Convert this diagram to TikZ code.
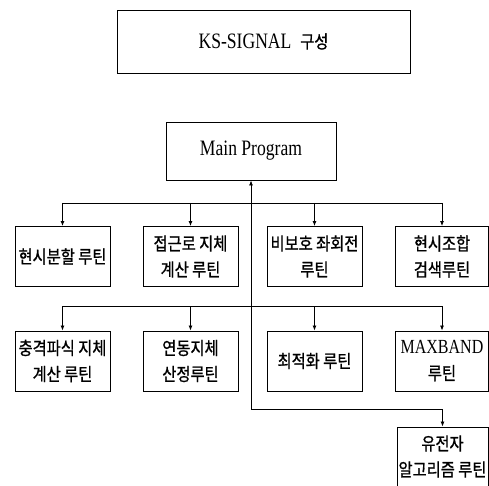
\documentclass[tikz,border=0pt]{standalone}
\usepackage{fontspec}
\setmainfont[FakeStretch=0.8]{Liberation Serif}
\newfontfamily\krfont[FakeStretch=0.85, FakeBold=1]{Noto Sans CJK KR}
\usetikzlibrary{positioning,arrows.meta}
\tikzset{%
  block/.style={draw, line width=0.9pt, rectangle, align=center, inner sep=0pt},
  head/.style={block, font=\rmfamily\fontsize{22}{26}\selectfont},% title boxes
  routine/.style={block, minimum width=93pt, minimum height=60pt,
    font=\krfont\fontsize{18}{26}\selectfont},% routine boxes
  link/.style={line width=0.8pt},% bus lines
  call/.style={link, -{Latex[length=5pt,width=4pt]}}% arrows into boxes
}
\begin{document}
\begin{tikzpicture}[x=1pt,y=-1pt]
\useasboundingbox (0,0) rectangle (489,486);

\node[head, minimum width=293pt, minimum height=63pt] (title) at (263.5,41.5) {KS-SIGNAL\ \ {\krfont\fontsize{18}{22}\selectfont 구성}};
\node[head, minimum width=170pt, minimum height=58pt] (main) at (251,151) {Main Program};

% first row
\node[routine, minimum width=95pt] (split) at (62.5,256.5) {현시분할 루틴};
\node[routine, minimum width=95pt] (approach) at (190.5,256.5) {접근로 지체\\계산 루틴};
\node[routine, minimum width=95pt] (leftturn) at (314.5,256.5) {비보호 좌회전\\루틴};
\node[routine] (combine) at (442,256.5) {현시조합\\검색루틴};

% second row
\node[routine, minimum width=95pt] (shock) at (62.5,361) {충격파식 지체\\계산 루틴};
\node[routine, minimum width=95pt] (link) at (190.5,361) {연동지체\\산정루틴};
\node[routine, minimum width=95pt] (optim) at (314.5,361) {최적화 루틴};
\node[routine] (maxband) at (442,361) {{\rmfamily\fontsize{20}{26}\selectfont MAXBAND}\\루틴};

\node[routine, minimum width=91pt, minimum height=59pt] (genetic) at (442.5,456.5) {유전자\\알고리즘 루틴};

\coordinate (bus1) at (251,203);
\coordinate (bus2) at (251,306);
\coordinate (turn) at (251,409);

\draw[call] (turn) -- (main.south);
\draw[link] (bus1 -| split) -- (bus1 -| combine);
\draw[link] (bus2 -| shock) -- (bus2 -| maxband);
\foreach \n in {split,approach,leftturn,combine}
  \draw[call] (bus1 -| \n) -- (\n.north);
\foreach \n in {shock,link,optim,maxband}
  \draw[call] (bus2 -| \n) -- (\n.north);
\draw[call] (turn) -| (genetic.north);

\end{tikzpicture}
\end{document}
